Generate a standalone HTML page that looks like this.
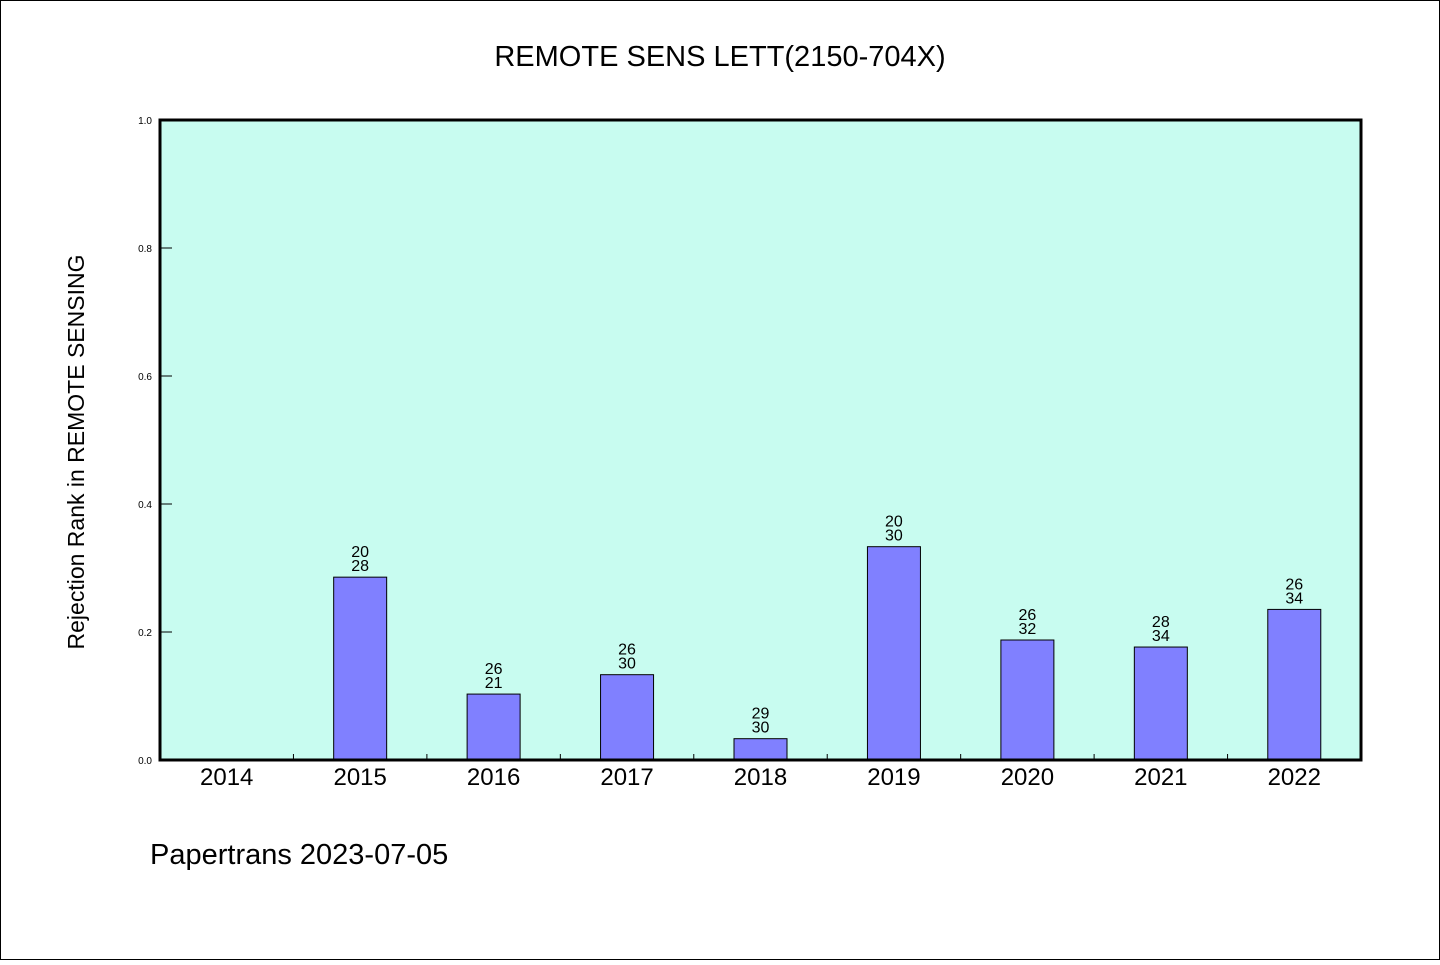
<!DOCTYPE html>
<html><head><meta charset="utf-8"><style>
body{margin:0;background:#fff}
svg text{font-family:"WenQuanYi Zen Hei","Liberation Sans",sans-serif;fill:#000}
</style></head><body>
<svg width="1440" height="960" xmlns="http://www.w3.org/2000/svg">
<rect x="0.5" y="0.5" width="1439" height="959" fill="#fff" stroke="#000"/>
<text x="720" y="66" font-size="29" text-anchor="middle">REMOTE SENS LETT(2150-704X)</text>
<rect x="160" y="120" width="1201" height="640" fill="#c8fcf0"/>
<g id="marks"></g>
<rect x="160" y="120" width="1201" height="640" fill="none" stroke="#000" stroke-width="3"/>
<text transform="translate(84,452) rotate(-90)" font-size="23" text-anchor="middle">Rejection Rank in REMOTE SENSING</text>
<text x="150" y="864" font-size="29">Papertrans 2023-07-05</text>
</svg>
<script>
const categories=["2014","2015","2016","2017","2018","2019","2020","2021","2022"];
const values=[0,0.2857,0.103,0.1333,0.0333,0.3333,0.1875,0.1765,0.2353];
const labelTop=["","20","26","26","29","20","26","28","26"];
const labelBottom=["","28","21","30","30","30","32","34","34"];
const yTicks=[0,0.2,0.4,0.6,0.8,1.0];
const X0=160,W=1201,Y0=760,H=640;
const band=W/categories.length;
const xc=i=>X0+band*(i+0.5);
const y=v=>Y0-v*H;
const g=document.getElementById('marks');
const NS="http://www.w3.org/2000/svg";
function mk(t,a){const e=document.createElementNS(NS,t);for(const k in a)e.setAttribute(k,a[k]);g.appendChild(e);return e;}
yTicks.forEach(t=>{
 const l=mk('line',{x1:X0,x2:X0+12,y1:y(t),y2:y(t),stroke:'#000','stroke-width':1});
 
 
 const tx=mk('text',{x:X0-8,y:y(t)+4,'font-size':10,'text-anchor':'end'});
 tx.textContent=t.toFixed(1);
 
 
});
categories.forEach((c,i)=>{
 if(i>0){const l=mk('line',{x1:X0+band*i,x2:X0+band*i,y1:Y0,y2:Y0-6,stroke:'#000','stroke-width':1});
 
 }
 const tx=mk('text',{x:xc(i),y:Y0+25,'font-size':24,'text-anchor':'middle'});
 tx.textContent=c;
 
 
 if(values[i]>0){
  const bw=53;
  const r=mk('rect',{x:xc(i)-bw/2,y:y(values[i]),width:bw,height:Y0-y(values[i]),fill:'#8080ff',stroke:'#000','stroke-width':1});
  
  
  const t1=mk('text',{x:xc(i),y:y(values[i])-20,'font-size':16,'text-anchor':'middle'});
  t1.textContent=labelTop[i];
  
  
  const t2=mk('text',{x:xc(i),y:y(values[i])-6,'font-size':16,'text-anchor':'middle'});
  t2.textContent=labelBottom[i];
  
  
 }
});
</script>
</body></html>
